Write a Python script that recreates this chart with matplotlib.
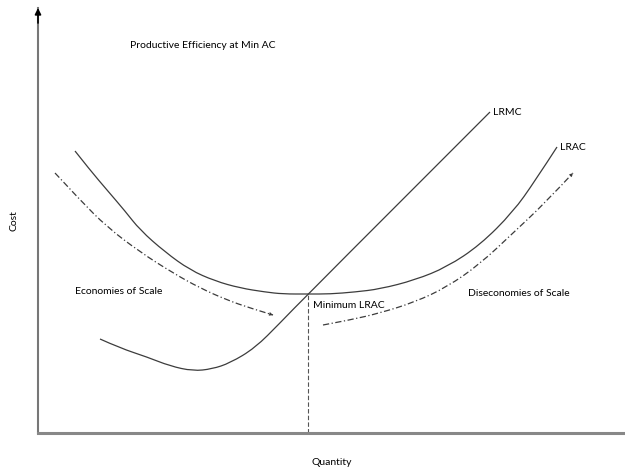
import matplotlib.pyplot as plt
from matplotlib.path import Path
from matplotlib.patches import PathPatch

plt.rcParams['font.family'] = ['Lato', 'DejaVu Sans']

# curves (quantity, cost) with origin at the axes corner
lrac_q = [37, 52, 69, 87, 102, 127, 152, 177, 202, 227, 245, 270, 292, 317, 342, 377, 409, 442, 475, 497, 519]
lrac_c = [282, 263, 243, 222, 203, 181, 163, 152, 145, 141, 139, 139, 139, 141, 144, 153, 166, 188, 221, 252, 286]

lrmc_q = [62, 82, 109, 132, 155, 174, 192, 217, 242, 270, 452]
lrmc_c = [94, 85, 76, 67, 62, 64, 70, 85, 110, 139, 321]

eos_q = [17, 42, 69, 102, 135, 162, 189, 212, 235]
eos_c = [260, 233, 206, 181, 160, 145, 133, 125, 118]

dis_q = [285, 312, 342, 377, 409, 442, 475, 507, 535]
dis_c = [108, 113, 120, 131, 146, 169, 200, 230, 260]

min_q = 270
min_c = 139


def smooth_path(xs, ys):
    # quadratic bezier through midpoints, read points used as control points
    pts = list(zip(xs, ys))
    verts = [pts[0]]
    codes = [Path.MOVETO]
    for i in range(1, len(pts) - 1):
        mid = ((pts[i][0] + pts[i + 1][0]) / 2, (pts[i][1] + pts[i + 1][1]) / 2)
        if i == len(pts) - 2:
            mid = pts[-1]
        verts += [pts[i], mid]
        codes += [Path.CURVE3, Path.CURVE3]
    return Path(verts, codes)


fig = plt.figure(figsize=(6.25, 4.71), dpi=100)
ax = fig.add_axes([38 / 625, 38 / 471, 587 / 625, 425 / 471])
ax.set_xlim(0, 587)
ax.set_ylim(0, 425)

line_col = '#3c3c3c'
ax.add_patch(PathPatch(smooth_path(lrac_q, lrac_c), fc='none', ec=line_col, lw=0.9))
ax.add_patch(PathPatch(smooth_path(lrmc_q, lrmc_c), fc='none', ec=line_col, lw=0.9))
ax.plot([min_q, min_q], [0, min_c], color='#555555', lw=0.8, ls=(0, (4, 2)))

for q, c in [(eos_q, eos_c), (dis_q, dis_c)]:
    ax.add_patch(PathPatch(smooth_path(q, c), fc='none', ec=line_col, lw=0.9,
                           ls=(0, (5, 2, 1, 2))))
    ax.annotate('', xy=(q[-1], c[-1]), xytext=(q[-2], c[-2]),
                arrowprops=dict(arrowstyle='-|>', color=line_col, lw=0,
                                mutation_scale=7, shrinkA=0, shrinkB=0))

fs = 7.5
ax.text(92, 388, 'Productive Efficiency at Min AC', fontsize=fs, va='center')
ax.text(455, 321, 'LRMC', fontsize=fs, va='center')
ax.text(522, 286, 'LRAC', fontsize=fs, va='center')
ax.text(37, 142, 'Economies of Scale', fontsize=fs, va='center')
ax.text(275, 128, 'Minimum LRAC', fontsize=fs, va='center')
ax.text(430, 140, 'Diseconomies of Scale', fontsize=fs, va='center')

ax.set_xlabel('Quantity', fontsize=fs, labelpad=18)
ax.set_ylabel('Cost', fontsize=fs, labelpad=14)
ax.set_xticks([])
ax.set_yticks([])
for s in ['top', 'right']:
    ax.spines[s].set_visible(False)
ax.spines['left'].set_color('#777777')
ax.spines['left'].set_linewidth(1.5)
ax.spines['bottom'].set_color('#888888')
ax.spines['bottom'].set_linewidth(2.2)
ax.annotate('', xy=(0, 425), xytext=(0, 410), annotation_clip=False,
            arrowprops=dict(arrowstyle='-|>', color='black', lw=1.2, mutation_scale=9,
                            shrinkA=0, shrinkB=0))

fig.savefig('out.png', dpi=100)
